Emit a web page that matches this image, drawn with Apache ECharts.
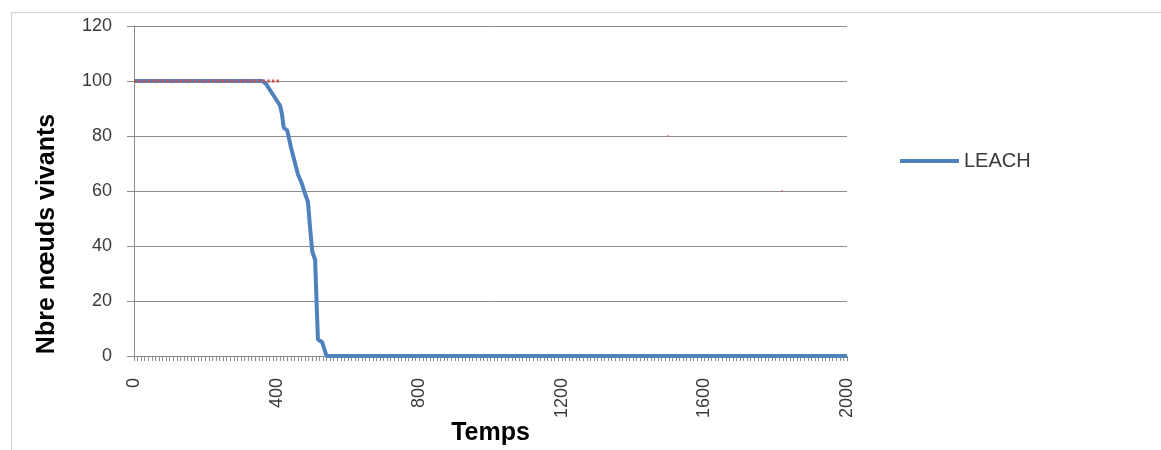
<!DOCTYPE html>
<html>
<head>
<meta charset="utf-8">
<script src="https://cdn.jsdelivr.net/npm/echarts@6/dist/echarts.min.js"></script>
<style>html,body{margin:0;padding:0;background:#fff}#c{width:1161px;height:450px}</style>
</head>
<body>
<div id="c"></div>
<script>
// LEACH: time vs alive nodes
const leachTime  = [0, 360, 370, 380, 390, 400, 410, 415, 420, 430, 440, 450, 460, 470, 480, 488, 495, 500, 508, 512, 516, 528, 540, 2000];
const leachAlive = [100, 100, 99, 97, 95, 93, 91, 88, 83, 82, 76, 71, 66, 63, 59, 56, 45, 38, 35, 20, 6, 5, 0, 0];
// red dotted series (drawn over LEACH at 100)
const redTime  = [0, 412];
const redAlive = [100, 100];
const strayTime  = [1498, 1818];
const strayAlive = [80, 60];
const xTicks = [0, 400, 800, 1200, 1600, 2000];
const yTicks = [0, 20, 40, 60, 80, 100, 120];
const yTitle = 'Nbre nœuds vivants';
const xTitle = 'Temps';

const zip = (a, b) => a.map((v, i) => [v, b[i]]);
const chart = echarts.init(document.getElementById('c'), null, {renderer: 'canvas'});
const txt = '#3a3a3a', axisGray = '#8c8c8c';
chart.setOption({
  animation: false,
  graphic: [
    {type: 'rect', left: 9, top: 10, shape: {width: 1160, height: 445}, style: {fill: 'none', stroke: '#d0d0d0', lineWidth: 1}, silent: true},
    {type: 'text', x: 47, y: 234, rotation: Math.PI / 2, silent: true,
     style: {text: yTitle, fontFamily: 'Liberation Sans', fontWeight: 'bold', fontSize: 25, fill: '#000', align: 'center', verticalAlign: 'middle'}}
  ],
  grid: {left: 134, right: 314, top: 26, bottom: 94, containLabel: false, outerBoundsMode: 'none'},
  legend: {
    data: ['LEACH'], left: 895, top: 146, itemWidth: 59, itemHeight: 4, itemGap: 5,
    icon: 'rect',
    textStyle: {fontFamily: 'Liberation Sans', fontSize: 20, color: txt}
  },
  xAxis: {
    type: 'value', min: xTicks[0], max: xTicks[xTicks.length - 1], interval: xTicks[1] - xTicks[0],
    name: xTitle, nameLocation: 'middle', nameGap: 65, nameMoveOverlap: false,
    nameTextStyle: {fontFamily: 'Liberation Sans', fontWeight: 'bold', fontSize: 25, color: '#000'},
    axisLine: {show: true, lineStyle: {color: axisGray, width: 1}},
    axisTick: {show: true, length: 5, lineStyle: {color: axisGray}},
    minorTick: {show: true, splitNumber: 40, length: 5, lineStyle: {color: axisGray}},
    splitLine: {show: false},
    axisLabel: {rotate: 90, fontFamily: 'Liberation Sans', fontSize: 18, color: txt, margin: 22, formatter: v => String(v)}
  },
  yAxis: {
    type: 'value', min: yTicks[0], max: yTicks[yTicks.length - 1], interval: yTicks[1] - yTicks[0],
    axisLine: {show: true, lineStyle: {color: axisGray, width: 1}},
    axisTick: {show: true, inside: false, length: 7, lineStyle: {color: axisGray}},
    splitLine: {show: true, lineStyle: {color: axisGray, width: 1}},
    axisLabel: {fontFamily: 'Liberation Sans', fontSize: 18, color: txt, margin: 22, formatter: v => String(v)}
  },
  series: [
    {name: 'LEACH', type: 'line', data: zip(leachTime, leachAlive), showSymbol: false, z: 2,
     itemStyle: {color: '#4F81BD'}, lineStyle: {color: '#4F81BD', width: 4}},
    {name: 'red', type: 'line', data: zip(redTime, redAlive), showSymbol: false, z: 3,
     lineStyle: {color: '#D0504D', width: 3, type: [2.3, 2.3]}},
    {name: 'stray', type: 'scatter', data: zip(strayTime, strayAlive), symbolSize: 2, z: 3,
     itemStyle: {color: '#E06060'}}
  ]
});
</script>
</body>
</html>
